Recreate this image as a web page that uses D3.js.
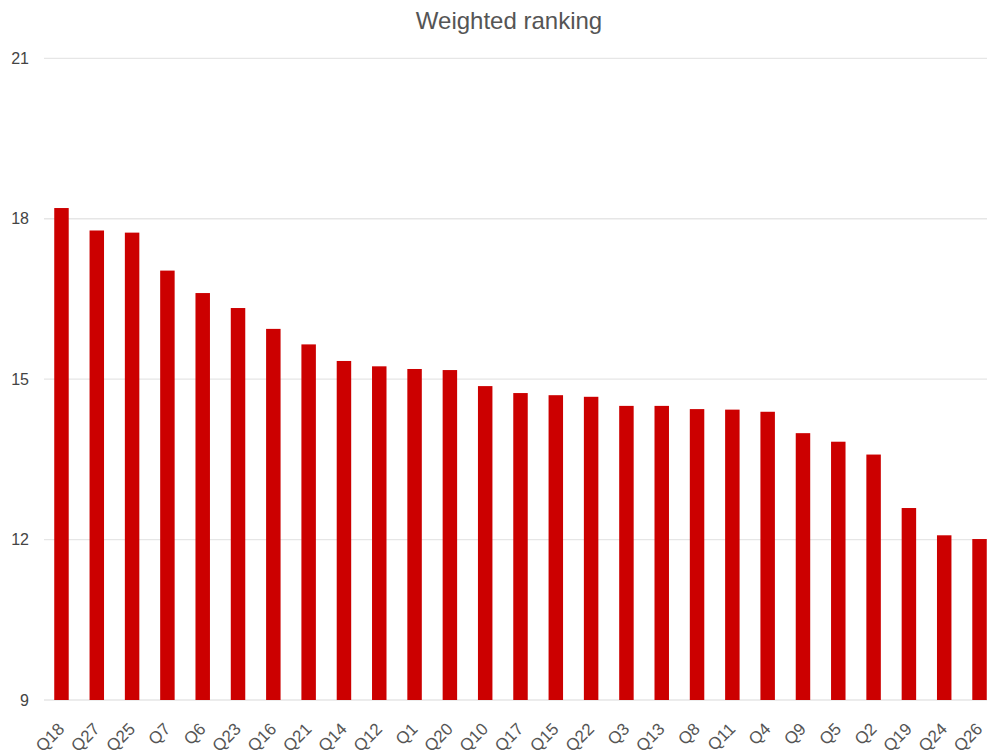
<!DOCTYPE html>
<html>
<head>
<meta charset="utf-8">
<script src="https://cdn.jsdelivr.net/npm/d3@7"></script>
<style>
  html, body { margin: 0; padding: 0; background: #fff; }
  svg { display: block; font-family: "Liberation Sans", Arial, sans-serif; }
</style>
</head>
<body>
<svg id="chart" width="987" height="756"></svg>
<script>
const categories = ["Q18","Q27","Q25","Q7","Q6","Q23","Q16","Q21","Q14","Q12","Q1","Q20","Q10","Q17","Q15","Q22","Q3","Q13","Q8","Q11","Q4","Q9","Q5","Q2","Q19","Q24","Q26"];
const values = [18.20,17.78,17.74,17.03,16.61,16.33,15.94,15.65,15.34,15.24,15.19,15.17,14.87,14.74,14.70,14.67,14.50,14.50,14.44,14.43,14.39,13.99,13.83,13.59,12.59,12.08,12.01];
const yTicks = [9,12,15,18,21];
const title = "Weighted ranking";

const svg = d3.select("#chart");
const W = 987, H = 756;

const x = d3.scaleBand()
  .domain(categories)
  .range([44, 997])
  .paddingInner(0.59)
  .paddingOuter(0.29);

const y = d3.scaleLinear()
  .domain([9, 21])
  .range([700, 58.3]);

// gridlines
svg.append("g")
  .selectAll("line")
  .data(yTicks)
  .join("line")
  .attr("x1", 44)
  .attr("x2", W)
  .attr("y1", d => y(d))
  .attr("y2", d => y(d))
  .attr("stroke", "#e6e6e6")
  .attr("stroke-width", 1.3);

// y axis labels
const yAxis = d3.axisLeft(y).tickValues(yTicks).tickSize(0).tickPadding(0);
const gy = svg.append("g").attr("transform", "translate(29,0)").call(yAxis);
gy.select(".domain").remove();
gy.selectAll("text")
  .attr("fill", "#444")
  .style("font-size", "16px")
  .style("font-family", "'Liberation Sans', Arial, sans-serif");

// bars
svg.append("g")
  .selectAll("rect")
  .data(categories)
  .join("rect")
  .attr("x", d => x(d))
  .attr("width", x.bandwidth())
  .attr("y", (d, i) => y(values[i]))
  .attr("height", (d, i) => y(9) - y(values[i]))
  .attr("fill", "#cc0000");

// x labels
const xAxis = d3.axisBottom(x).tickSize(0).tickPadding(0);
const gx = svg.append("g").attr("transform", "translate(0,700)").call(xAxis);
gx.select(".domain").remove();
gx.selectAll("text")
  .attr("fill", "#555")
  .style("font-size", "17px")
  .style("font-family", "'Liberation Sans', Arial, sans-serif")
  .attr("text-anchor", "end")
  .attr("dy", null)
  .attr("y", null)
  .attr("transform", "translate(4,30) rotate(-45)");

// title
svg.append("text")
  .attr("x", 509)
  .attr("y", 29)
  .attr("text-anchor", "middle")
  .attr("fill", "#555")
  .style("font-size", "24px")
  .text(title);
</script>
</body>
</html>
